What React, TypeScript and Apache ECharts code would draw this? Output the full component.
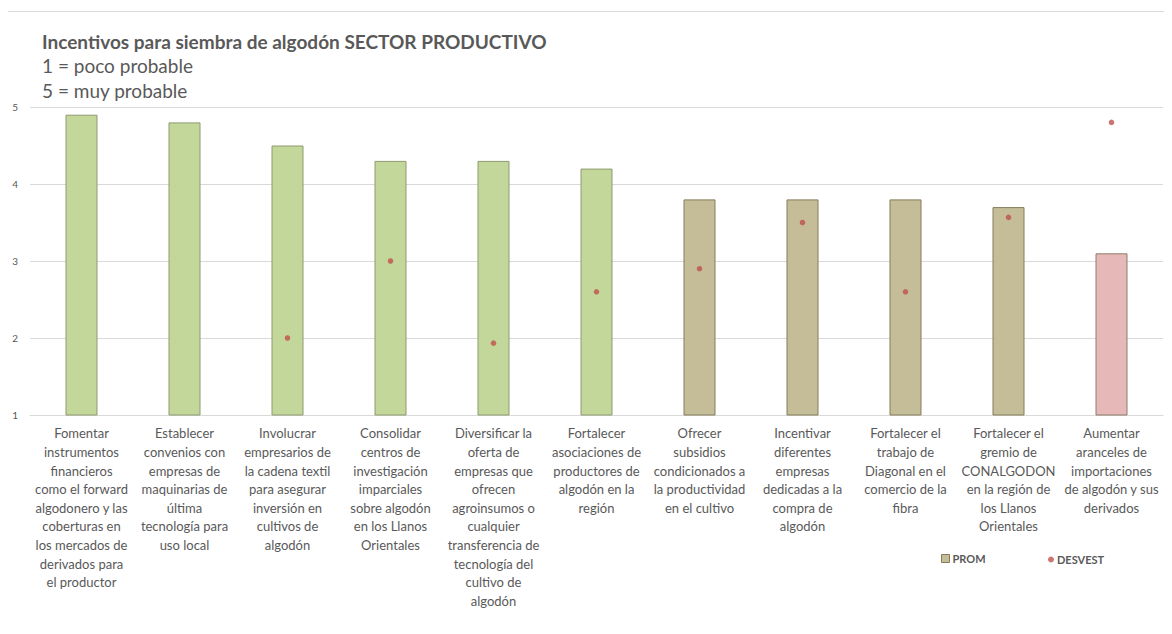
import React, { useEffect, useRef } from "react";
import * as echarts from "echarts";

const categories = [
  "Fomentar\ninstrumentos\nfinancieros\ncomo el forward\nalgodonero y las\ncoberturas en\nlos mercados de\nderivados para\nel productor",
  "Establecer\nconvenios con\nempresas de\nmaquinarias de\núltima\ntecnología para\nuso local",
  "Involucrar\nempresarios de\nla cadena textil\npara asegurar\ninversión en\ncultivos de\nalgodón",
  "Consolidar\ncentros de\ninvestigación\nimparciales\nsobre algodón\nen los Llanos\nOrientales",
  "Diversificar la\noferta de\nempresas que\nofrecen\nagroinsumos o\ncualquier\ntransferencia de\ntecnología del\ncultivo de\nalgodón",
  "Fortalecer\nasociaciones de\nproductores de\nalgodón en la\nregión",
  "Ofrecer\nsubsidios\ncondicionados a\nla productividad\nen el cultivo",
  "Incentivar\ndiferentes\nempresas\ndedicadas a la\ncompra de\nalgodón",
  "Fortalecer el\ntrabajo de\nDiagonal en el\ncomercio de la\nfibra",
  "Fortalecer el\ngremio de\nCONALGODON\nen la región de\nlos Llanos\nOrientales",
  "Aumentar\naranceles de\nimportaciones\nde algodón y sus\nderivados",
];

const prom = [4.9, 4.8, 4.5, 4.3, 4.3, 4.2, 3.8, 3.8, 3.8, 3.7, 3.1];
const desvest: (number | null)[] = [null, null, 0.8, 1.1, 0.78, 0.98, 1.07, 1.25, 0.98, 1.27, 1.64];
const barGroup = ["g", "g", "g", "g", "g", "g", "t", "t", "t", "t", "p"];

const leftTicks = { min: 1, max: 5, interval: 1 };
const rightTicks = { min: 0.5, max: 1.7, interval: 0.5 };

const fills: Record<string, string> = { g: "#c4d79b", t: "#c4bd97", p: "#e6b9b8" };
const borders: Record<string, string> = { g: "#8e9a70", t: "#857c5a", p: "#8f7c6e" };

const FONT = "Lato, 'Open Sans', sans-serif";

export default function App() {
  const ref = useRef<HTMLDivElement>(null);
  useEffect(() => {
    if (!ref.current) return;
    const chart = echarts.init(ref.current, null, { renderer: "svg" });
    chart.setOption({
      animation: false,
      textStyle: { fontFamily: FONT },
      title: {
        left: 34,
        top: 21,
        padding: 0,
        text:
          "{b|Incentivos para siembra de algodón SECTOR PRODUCTIVO}\n{n|1 = poco probable}\n{n|5 = muy probable}",
        textStyle: {
          fontWeight: "normal",
          rich: {
            b: { fontFamily: FONT, fontSize: 19, fontWeight: "bold", color: "#595959", lineHeight: 24.5 },
            n: { fontFamily: FONT, fontSize: 19, fontWeight: "normal", color: "#595959", lineHeight: 24.5 },
          },
        },
      },
      graphic: [
        {
          type: "rect",
          shape: { x: -0.5, y: 3.5, width: 2000, height: 2000 },
          style: { fill: "none", stroke: "#d9d9d9", lineWidth: 1 },
          silent: true,
          z: -10,
        },
      ],
      legend: [
        {
          left: 933,
          top: 545,
          itemWidth: 8,
          itemHeight: 8,
          padding: 0,
          textStyle: { fontFamily: FONT, fontSize: 11, fontWeight: "bold", color: "#595959", padding: [0, 0, 0, -2] },
          data: [{ name: "PROM", icon: "rect", itemStyle: { color: "#c4bd97", borderColor: "#857c5a", borderWidth: 1 } }],
        },
        {
          left: 1040,
          top: 546,
          itemWidth: 6,
          itemHeight: 6,
          padding: 0,
          textStyle: { fontFamily: FONT, fontSize: 11, fontWeight: "bold", color: "#595959", padding: [0, 0, 0, -2] },
          data: [{ name: "DESVEST", icon: "circle", itemStyle: { color: "#c0504d" } }],
        },
      ],
      grid: { left: 22, right: 9, top: 99, bottom: 219, containLabel: false, outerBoundsMode: "none" },
      xAxis: {
        type: "category",
        data: categories,
        axisTick: { show: false },
        axisLine: { lineStyle: { color: "#d9d9d9" } },
        axisLabel: {
          interval: 0,
          margin: 9,
          fontFamily: FONT,
          fontSize: 13,
          lineHeight: 18.6,
          color: "#595959",
          align: "center",
        },
      },
      yAxis: [
        {
          type: "value",
          ...leftTicks,
          axisLine: { show: false },
          axisTick: { show: false },
          splitLine: { lineStyle: { color: "#d9d9d9" } },
          axisLabel: { fontFamily: FONT, fontSize: 10, color: "#595959", margin: 12 },
        },
        {
          type: "value",
          position: "right",
          ...rightTicks,
          axisLine: { show: false },
          axisTick: { show: false },
          splitLine: { show: false },
          axisLabel: {
            fontFamily: FONT,
            fontSize: 9,
            color: "#8c8c8c",
            margin: 14,
            formatter: (v: number) => (Math.abs(v * 2 - Math.round(v * 2)) < 1e-6 ? v.toFixed(1).replace(".", ",") : ""),
          },
        },
      ],
      series: [
        {
          name: "PROM",
          type: "bar",
          barWidth: 32,
          yAxisIndex: 0,
          data: prom.map((v, i) => ({
            value: v,
            itemStyle: { color: fills[barGroup[i]], borderColor: borders[barGroup[i]], borderWidth: 1 },
          })),
        },
        {
          name: "DESVEST",
          type: "scatter",
          yAxisIndex: 1,
          symbol: "circle",
          symbolSize: 5.5,
          itemStyle: { color: "#c0504d" },
          data: desvest,
          z: 5,
        },
      ],
    });
    return () => chart.dispose();
  }, []);
  return <div ref={ref} style={{ width: 1164, height: 626 }} />;
}
